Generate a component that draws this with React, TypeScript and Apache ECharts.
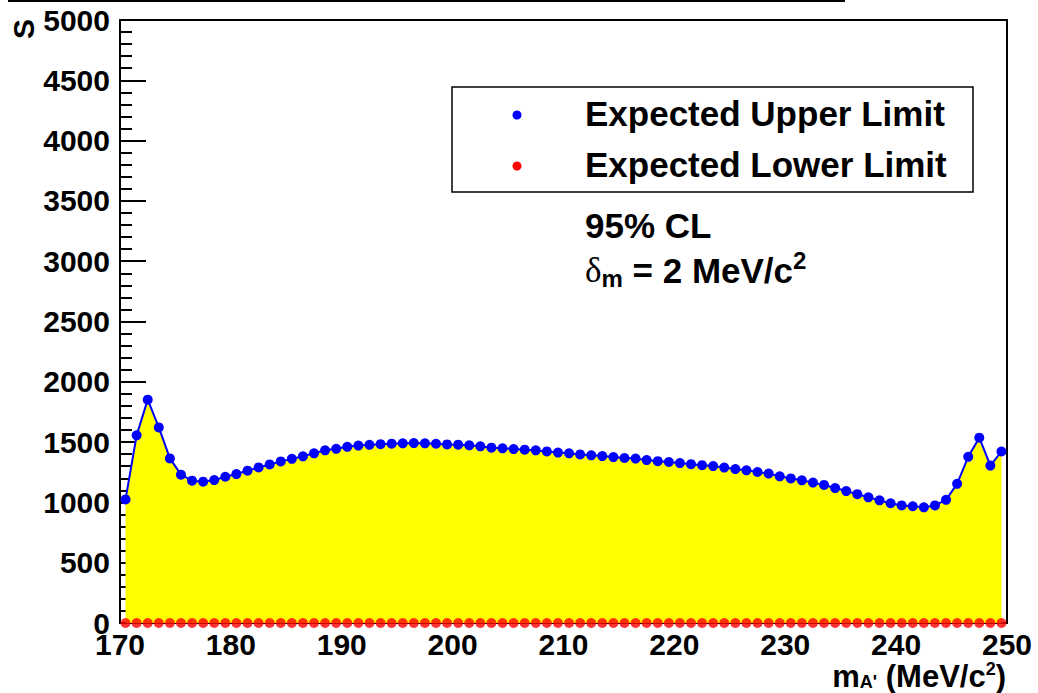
import React, { useEffect, useRef } from "react";
import * as echarts from "echarts";

// A' mass hypotheses (MeV/c^2), one point per 1 MeV bin centre
const massValues = [
  170.5, 171.5, 172.5, 173.5, 174.5, 175.5, 176.5, 177.5, 178.5, 179.5,
  180.5, 181.5, 182.5, 183.5, 184.5, 185.5, 186.5, 187.5, 188.5, 189.5,
  190.5, 191.5, 192.5, 193.5, 194.5, 195.5, 196.5, 197.5, 198.5, 199.5,
  200.5, 201.5, 202.5, 203.5, 204.5, 205.5, 206.5, 207.5, 208.5, 209.5,
  210.5, 211.5, 212.5, 213.5, 214.5, 215.5, 216.5, 217.5, 218.5, 219.5,
  220.5, 221.5, 222.5, 223.5, 224.5, 225.5, 226.5, 227.5, 228.5, 229.5,
  230.5, 231.5, 232.5, 233.5, 234.5, 235.5, 236.5, 237.5, 238.5, 239.5,
  240.5, 241.5, 242.5, 243.5, 244.5, 245.5, 246.5, 247.5, 248.5, 249.5,
];

// Expected upper limit on signal yield S
const upperLimit = [
  1025, 1556, 1852, 1622, 1365, 1230, 1180, 1172, 1185, 1213,
  1235, 1263, 1290, 1315, 1340, 1361, 1382, 1407, 1432, 1444,
  1461, 1471, 1477, 1483, 1487, 1490, 1492, 1490, 1486, 1481,
  1479, 1473, 1465, 1454, 1448, 1442, 1437, 1432, 1423, 1413,
  1407, 1398, 1390, 1384, 1376, 1368, 1363, 1351, 1342, 1335,
  1326, 1317, 1309, 1301, 1289, 1276, 1266, 1252, 1239, 1216,
  1199, 1183, 1164, 1145, 1119, 1094, 1068, 1042, 1017, 993,
  975, 968, 959, 975, 1021, 1154, 1378, 1537, 1305, 1422,
];

// Expected lower limit on signal yield S
const lowerLimit = [
  0, 0, 0, 0, 0, 0, 0, 0, 0, 0,
  0, 0, 0, 0, 0, 0, 0, 0, 0, 0,
  0, 0, 0, 0, 0, 0, 0, 0, 0, 0,
  0, 0, 0, 0, 0, 0, 0, 0, 0, 0,
  0, 0, 0, 0, 0, 0, 0, 0, 0, 0,
  0, 0, 0, 0, 0, 0, 0, 0, 0, 0,
  0, 0, 0, 0, 0, 0, 0, 0, 0, 0,
  0, 0, 0, 0, 0, 0, 0, 0, 0, 0,
];

const seriesNames = ["Expected Upper Limit", "Expected Lower Limit"];
const seriesColors = ["#0000ff", "#ff0000"];
const xRange = [170, 250];
const yRange = [0, 5000];

const FONT = '"Liberation Sans", Arial, Helvetica, sans-serif';
const SERIF = '"Liberation Serif", "DejaVu Serif", serif';

export default function App() {
  const ref = useRef<HTMLDivElement>(null);

  useEffect(() => {
    if (!ref.current) return;
    const chart = echarts.init(ref.current, null, { renderer: "svg" });

    const upperData = massValues.map((m, i) => [m, upperLimit[i]]);
    const lowerData = massValues.map((m, i) => [m, lowerLimit[i]]);

    // legend box drawn in the ROOT style: framed, dot markers, large labels
    const legendBox = { x: 452, y: 87, width: 521, height: 105 };
    const legendRows = [113, 164];
    const legendGraphics: any[] = [
      {
        type: "rect",
        shape: { ...legendBox },
        style: { fill: "#fff", stroke: "#000", lineWidth: 1.5 },
        z: 10,
      },
    ];
    seriesNames.forEach((name, i) => {
      legendGraphics.push({
        type: "circle",
        shape: { cx: 517, cy: legendRows[i] + 2, r: 4.5 },
        style: { fill: seriesColors[i] },
        z: 11,
      });
      legendGraphics.push({
        type: "text",
        x: 585,
        y: legendRows[i],
        style: {
          text: name,
          fill: "#000",
          font: `bold 35px ${FONT}`,
          align: "left",
          verticalAlign: "middle",
        },
        z: 11,
      });
    });

    chart.setOption({
      animation: false,
      backgroundColor: "#ffffff",
      grid: {
        left: 120,
        right: 31,
        top: 20,
        bottom: 70,
        show: true,
        borderColor: "#000",
        borderWidth: 2,
        backgroundColor: "transparent",
      },
      xAxis: {
        type: "value",
        min: xRange[0],
        max: xRange[1],
        interval: 10,
        axisLine: { show: true, lineStyle: { color: "#000", width: 2 } },
        axisTick: { show: true, inside: true, length: 26, lineStyle: { color: "#000", width: 2 } },
        minorTick: { show: true, splitNumber: 10, length: 12, lineStyle: { color: "#000", width: 2 } },
        splitLine: { show: false },
        axisLabel: {
          color: "#000",
          fontSize: 30,
          fontWeight: "bold",
          fontFamily: FONT,
          margin: 6,
          formatter: (v: number) => String(v),
        },
      },
      yAxis: {
        type: "value",
        min: yRange[0],
        max: yRange[1],
        interval: 500,
        axisLine: { show: true, lineStyle: { color: "#000", width: 2 } },
        axisTick: { show: true, inside: true, length: 26, lineStyle: { color: "#000", width: 2 } },
        minorTick: { show: true, splitNumber: 5, length: 12, lineStyle: { color: "#000", width: 2 } },
        splitLine: { show: false },
        axisLabel: {
          color: "#000",
          fontSize: 30,
          fontWeight: "bold",
          fontFamily: FONT,
          margin: 10,
          formatter: (v: number) => String(v),
        },
      },
      series: [
        {
          name: seriesNames[0],
          type: "line",
          data: upperData,
          symbol: "circle",
          symbolSize: 10,
          showAllSymbol: true,
          itemStyle: { color: seriesColors[0] },
          lineStyle: { color: seriesColors[0], width: 2 },
          areaStyle: { color: "#ffff00", opacity: 1 },
          z: 2,
        },
        {
          name: seriesNames[1],
          type: "scatter",
          data: lowerData,
          symbol: "circle",
          symbolSize: 10,
          itemStyle: { color: seriesColors[1] },
          z: 3,
        },
      ],
      graphic: [
        // edge of the title box along the top
        {
          type: "rect",
          shape: { x: 8, y: 0, width: 837, height: 2 },
          style: { fill: "#000" },
        },
        // y-axis title
        {
          type: "text",
          x: 23,
          y: 29,
          rotation: Math.PI / 2,
          style: {
            text: "S",
            fill: "#000",
            font: `bold 30px ${FONT}`,
            align: "center",
            verticalAlign: "middle",
          },
        },
        // x-axis title
        {
          type: "text",
          x: 1006,
          y: 676,
          style: {
            text: "{m|m}{a|A'}{t| (MeV/c}{p|2}{t|)}",
            align: "right",
            verticalAlign: "middle",
            rich: {
              m: { fontSize: 31, fontWeight: "bold", fontFamily: FONT, fill: "#000" },
              a: { fontSize: 18, fontWeight: "bold", fontFamily: FONT, fill: "#000", padding: [12, 0, 0, 0] },
              t: { fontSize: 31, fontWeight: "bold", fontFamily: FONT, fill: "#000" },
              p: { fontSize: 18, fontWeight: "bold", fontFamily: FONT, fill: "#000", padding: [0, 0, 14, 0] },
            },
          },
        },
        ...legendGraphics,
        // confidence level note
        {
          type: "text",
          x: 585,
          y: 225,
          style: {
            text: "95% CL",
            fill: "#000",
            font: `bold 35px ${FONT}`,
            align: "left",
            verticalAlign: "middle",
          },
        },
        // mass window note
        {
          type: "text",
          x: 585,
          y: 270,
          style: {
            text: "{d|δ}{s|m}{t| = 2 MeV/c}{p|2}",
            align: "left",
            verticalAlign: "middle",
            rich: {
              d: { fontSize: 35, fontWeight: "normal", fontFamily: SERIF, fill: "#000" },
              s: { fontSize: 24, fontWeight: "bold", fontFamily: FONT, fill: "#000", padding: [16, 0, 0, 0] },
              t: { fontSize: 35, fontWeight: "bold", fontFamily: FONT, fill: "#000" },
              p: { fontSize: 24, fontWeight: "bold", fontFamily: FONT, fill: "#000", padding: [0, 0, 20, 0] },
            },
          },
        },
      ],
    });

    return () => {
      chart.dispose();
    };
  }, []);

  return (
    <div
      ref={ref}
      style={{ position: "absolute", left: 0, top: 0, width: 1038, height: 693 }}
    />
  );
}
